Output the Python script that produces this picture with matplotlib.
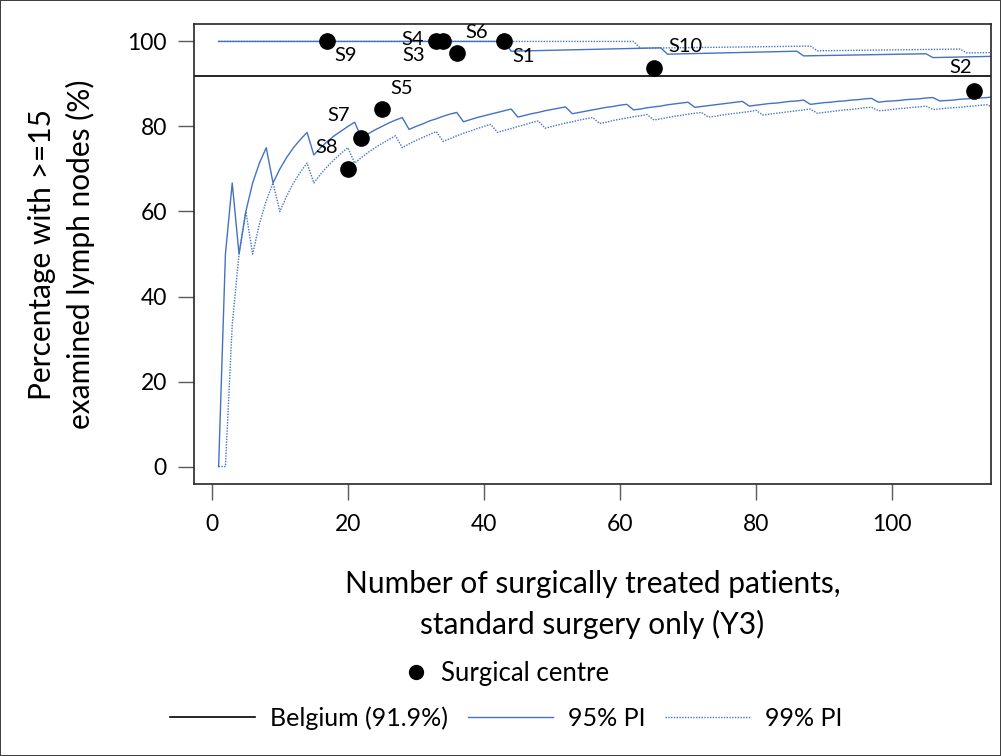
import matplotlib
matplotlib.use("Agg")
import matplotlib.pyplot as plt
import numpy as np
from matplotlib.lines import Line2D

plt.rcParams["font.family"] = ["Lato", "DejaVu Sans"]

# number of patients (funnel x values)
n_patients = np.arange(1, 116)

# lower prediction limits (%), one per n
lower_95 = [
    0, 50, 66.7, 50, 60, 66.7, 71.4, 75, 66.7, 70,
    72.7, 75, 76.9, 78.6, 73.3, 75, 76.5, 77.8, 78.9, 80,
    81.0, 77.3, 78.3, 79.2, 80, 80.8, 81.5, 82.1, 79.3, 80,
    80.6, 81.3, 81.8, 82.4, 82.9, 83.3, 81.1, 81.6, 82.1, 82.5,
    82.9, 83.3, 83.7, 84.1, 82.2, 82.6, 83.0, 83.3, 83.7, 84.0,
    84.3, 84.6, 83.0, 83.3, 83.6, 83.9, 84.2, 84.5, 84.7, 85.0,
    85.2, 83.9, 84.1, 84.4, 84.6, 84.8, 85.1, 85.3, 85.5, 85.7,
    84.5, 84.7, 84.9, 85.1, 85.3, 85.5, 85.7, 85.9, 84.8, 85.0,
    85.2, 85.4, 85.5, 85.7, 85.9, 86.0, 86.2, 85.2, 85.4, 85.6,
    85.7, 85.9, 86.0, 86.2, 86.3, 86.5, 86.6, 85.7, 85.9, 86.0,
    86.1, 86.3, 86.4, 86.5, 86.7, 86.8, 86.0, 86.1, 86.2, 86.4,
    86.5, 86.6, 86.7, 86.8, 87.0,
]
lower_99 = [
    0, 0, 33.3, 50, 60, 50, 57.1, 62.5, 66.7, 60,
    63.6, 66.7, 69.2, 71.4, 66.7, 68.8, 70.6, 72.2, 73.7, 75,
    71.4, 72.7, 73.9, 75, 76, 76.9, 77.8, 75, 75.9, 76.7,
    77.4, 78.1, 78.8, 76.5, 77.1, 77.8, 78.4, 78.9, 79.5, 80,
    80.5, 78.6, 79.1, 79.5, 80, 80.4, 80.9, 81.3, 79.6, 80,
    80.4, 80.8, 81.1, 81.5, 81.8, 82.1, 80.7, 81.0, 81.4, 81.7,
    82.0, 82.3, 82.5, 82.8, 81.5, 81.8, 82.1, 82.4, 82.6, 82.9,
    83.1, 83.3, 82.2, 82.4, 82.7, 82.9, 83.1, 83.3, 83.5, 83.8,
    82.7, 82.9, 83.1, 83.3, 83.5, 83.7, 83.9, 84.1, 83.1, 83.3,
    83.5, 83.7, 83.9, 84.0, 84.2, 84.4, 84.5, 83.7, 83.8, 84.0,
    84.2, 84.3, 84.5, 84.6, 84.8, 84.0, 84.1, 84.3, 84.4, 84.5,
    84.7, 84.8, 85.0, 85.1, 84.3,
]

# upper prediction limits (%), break points only
upper_95_n = [1, 43, 44, 66, 67, 86, 87, 105, 106, 115]
upper_95 = [100, 100, 97.7, 98.5, 97.0, 97.7, 96.6, 97.1, 96.2, 96.5]
upper_99_n = [1, 62, 63, 88, 89, 110, 111, 115]
upper_99 = [100, 100, 98.4, 98.9, 97.8, 98.2, 97.3, 97.4]

belgium = 91.9

# surgical centres
centre_names = ["S1", "S2", "S3", "S4", "S5", "S6", "S7", "S8", "S9", "S10"]
centre_n = [43, 112, 34, 33, 25, 36, 22, 20, 17, 65]
centre_pct = [100, 88.4, 100, 100, 84, 97.2, 77.3, 70, 100, 93.8]

# label offsets in pixels (dx, dy up)
label_offsets = {
    "S1": (19, -15), "S2": (-13, 23), "S3": (-29, -14), "S4": (-24, 2),
    "S5": (20, 21), "S6": (20, 21), "S7": (-23, 22), "S8": (-21, 21),
    "S9": (18, -14), "S10": (32, 21),
}

BLUE = "#4472C4"

fig = plt.figure(figsize=(10.01, 7.56), dpi=100, linewidth=1.2, edgecolor="#404040")
ax = fig.add_axes([194 / 1001, 1 - 484 / 756, 797 / 1001, 460 / 756])

ax.plot(n_patients, lower_95, color=BLUE, lw=1.0)
ax.plot(upper_95_n, upper_95, color=BLUE, lw=1.0)
ax.plot(n_patients, lower_99, color=BLUE, lw=1.0, ls=(0, (1, 1)))
ax.plot(upper_99_n, upper_99, color=BLUE, lw=1.0, ls=(0, (1, 1)))
ax.axhline(belgium, color="black", lw=1.2)

ax.plot(centre_n, centre_pct, "o", color="black", ms=11, zorder=5)
for name, x, y in zip(centre_names, centre_n, centre_pct):
    dx, dy = label_offsets[name]
    ax.annotate(name, (x, y), xytext=(dx * 0.72, dy * 0.72), textcoords="offset points",
                ha="center", va="center", fontsize=14.5)

ax.set_xlim(-2.62, 114.55)
ax.set_ylim(-4.1, 104.1)
ax.set_xticks([0, 20, 40, 60, 80, 100])
ax.set_yticks([0, 20, 40, 60, 80, 100])
ax.tick_params(direction="out", length=11.5, width=1, color="#595959", labelsize=16.5)
ax.tick_params(axis="x", pad=10)
ax.tick_params(axis="y", pad=8)
for sp in ax.spines.values():
    sp.set_linewidth(1.2)
    sp.set_color("#262626")

ax.set_xlabel("Number of surgically treated patients,\nstandard surgery only (Y3)",
              fontsize=21.5, labelpad=25, linespacing=1.5)
ax.set_ylabel("Percentage with >=15\nexamined lymph nodes (%)",
              fontsize=21.5, labelpad=23, linespacing=1.42)

# legends
h_centre = Line2D([], [], marker="o", color="black", ls="none", ms=10)
fig.legend([h_centre], ["Surgical centre"], loc="center",
           bbox_to_anchor=(506 / 1001, 1 - 673 / 756), frameon=False,
           fontsize=18.5, handlelength=1.0, handletextpad=0.5)
h_bel = Line2D([], [], color="black", lw=1.2)
h_95 = Line2D([], [], color=BLUE, lw=1.0)
h_99 = Line2D([], [], color=BLUE, lw=1.0, ls=(0, (1, 1)))
fig.legend([h_bel, h_95, h_99], ["Belgium (91.9%)", "95% PI", "99% PI"], loc="center",
           bbox_to_anchor=(506 / 1001, 1 - 718 / 756), ncol=3, frameon=False,
           fontsize=18, handlelength=3.4, handletextpad=0.6, columnspacing=0.8)

fig.savefig("out.png", dpi=100)
